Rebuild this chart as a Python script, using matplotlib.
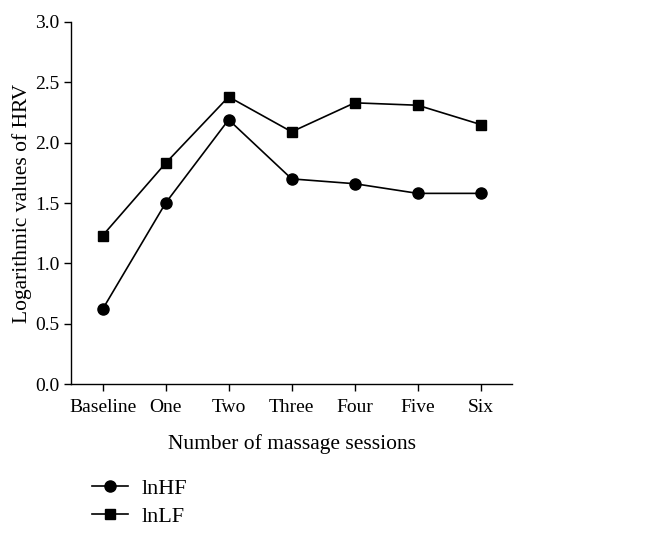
import numpy as np
import matplotlib.pyplot as plt

plt.rcParams['font.family'] = ['Liberation Serif', 'DejaVu Serif']

sessions = ['Baseline', 'One', 'Two', 'Three', 'Four', 'Five', 'Six']
ln_hf = [0.62, 1.50, 2.19, 1.70, 1.66, 1.58, 1.58]
ln_lf = [1.23, 1.83, 2.38, 2.09, 2.33, 2.31, 2.15]

fig = plt.figure(figsize=(6.46, 5.35), dpi=100)
ax = fig.add_axes([0.110, 0.282, 0.683, 0.677])

x = np.arange(len(sessions))
l1, = ax.plot(x, ln_hf, color='black', lw=1.2, marker='o', markersize=8, label='lnHF')
l2, = ax.plot(x, ln_lf, color='black', lw=1.2, marker='s', markersize=7.5, label='lnLF')

ax.set_xlim(-0.5, 6.5)
ax.set_ylim(0, 3.0)
ax.set_yticks(np.arange(0, 3.01, 0.5))
ax.set_yticklabels(['%.1f' % v for v in np.arange(0, 3.01, 0.5)])
ax.set_xticks(x)
ax.set_xticklabels(sessions)
ax.tick_params(labelsize=14, length=5, width=1, direction='out')
ax.tick_params(axis='x', pad=6)
ax.spines['top'].set_visible(False)
ax.spines['right'].set_visible(False)
for s in ['left', 'bottom']:
    ax.spines[s].set_linewidth(1)

ax.set_xlabel('Number of massage sessions', fontsize=15.5, labelpad=13)
ax.set_ylabel('Logarithmic values of HRV', fontsize=15.5, labelpad=2)

fig.legend(handles=[l1, l2], loc='upper left', bbox_to_anchor=(0.129, 0.123),
           frameon=False, fontsize=16, handlelength=1.6, handletextpad=0.6,
           labelspacing=0.35, borderaxespad=0)

fig.savefig('out.png', dpi=100)
